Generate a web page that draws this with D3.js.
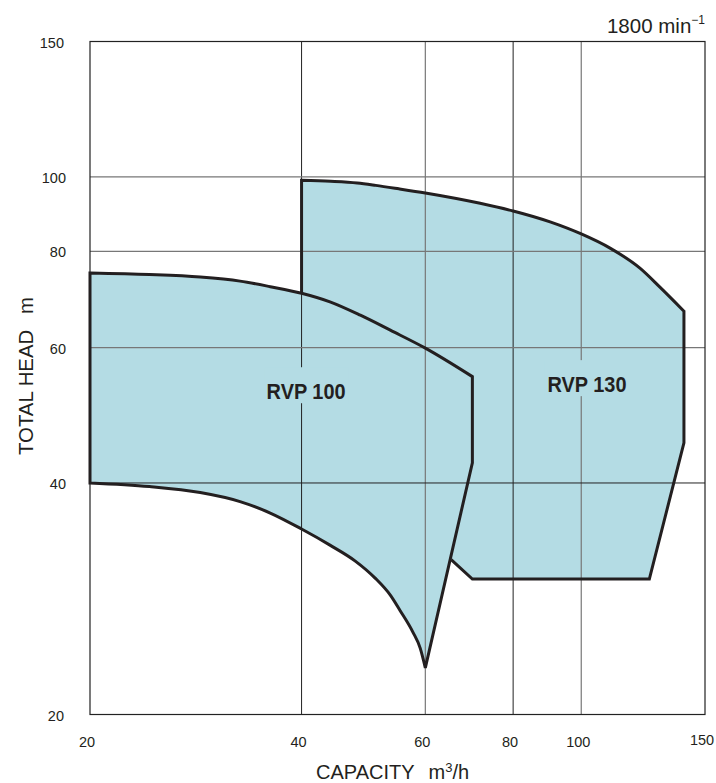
<!DOCTYPE html>
<html>
<head>
<meta charset="utf-8">
<script src="https://cdn.jsdelivr.net/npm/d3@7"></script>
<style>
  html, body { margin: 0; padding: 0; background: #fff; }
  svg { display: block; }
  text { font-family: "Liberation Sans Narrow", "Arial Narrow", "Liberation Sans", Arial, sans-serif; fill: #231f20; }
</style>
</head>
<body>
<svg id="chart" width="716" height="783"></svg>
<script>
// ---- data ----
const xTicks = [20, 40, 60, 80, 100, 150];
const yTicks = [20, 40, 60, 80, 100, 150];
const xGridDark = [40, 80];
const xGridLight = [60, 100];
const yGridDark = [40];
const yGridLight = [60, 80, 100];

// RVP 100 performance range [capacity m3/h, head m]
const rvp100Top = [[20, 75.0], [24.3, 74.66], [28.7, 74.1], [32.7, 73.2], [36.1, 72.0], [40, 70.6],
  [43.9, 68.8], [48.5, 66.1], [53.5, 63.2], [60, 59.9], [70, 55.0]];
const rvp100Right = [[70, 55.0], [70, 42.5], [60, 23.0]];
const rvp100Bottom = [[60, 23.0], [59, 24.4], [57.6, 25.6], [55.2, 27.33], [53.5, 28.59], [50.9, 30.09],
  [47.7, 31.66], [43.9, 33.21], [40, 34.85], [36.1, 36.56], [32.7, 37.83], [28.7, 38.87], [24.3, 39.57], [20, 40.0]];

// RVP 130 performance range
const rvp130Left = [[40, 70.6], [40, 99.0]];
const rvp130Top = [[40, 99.0], [44, 98.7], [48, 98.2], [51, 97.5], [55, 96.5], [60, 95.3], [71.8, 92.4],
  [80, 90.3], [90.3, 87.4], [100, 84.3], [109.9, 80.8], [121.2, 76.1], [129.4, 71.9], [140, 66.9]];
const rvp130Right = [[140, 66.9], [140, 45.1], [125, 30.0], [70, 30.0], [65.3, 31.8]];
const rvp130Hidden = [[65.3, 31.8], [60, 36.0], [40, 45.0], [40, 70.6]];

const labels = [
  { text: "RVP 100", q: 40.6, h: 51.4 },
  { text: "RVP 130", q: 101.9, h: 52.5 }
];

// ---- drawing ----
const svg = d3.select("#chart");
const x = d3.scaleLog().domain([20, 150]).range([90, 705]);
const y = d3.scaleLog().domain([20, 150]).range([714.5, 41.5]);

const FILL = "#b4dce4";
const INK = "#231f20";

const lin = d3.line().x(d => x(d[0])).y(d => y(d[1]));
const smooth = d3.line().x(d => x(d[0])).y(d => y(d[1])).curve(d3.curveMonotoneX);
const cont = s => "L" + s.slice(1);

const p100 = smooth(rvp100Top) + cont(lin(rvp100Right)) + cont(smooth(rvp100Bottom)) + "Z";
const p130fill = smooth(rvp130Top) + cont(lin(rvp130Right)) + cont(lin(rvp130Hidden)) + "Z";
const p130stroke = lin(rvp130Left) + cont(smooth(rvp130Top)) + cont(lin(rvp130Right));

svg.append("path").attr("d", p130fill).attr("fill", FILL);
svg.append("path").attr("d", p100).attr("fill", FILL);

// grid
const g = svg.append("g");
xGridDark.forEach(v => g.append("line").attr("x1", x(v)).attr("x2", x(v)).attr("y1", y(150)).attr("y2", y(20))
  .attr("stroke", "#222").attr("stroke-width", 1));
xGridLight.forEach(v => g.append("line").attr("x1", x(v)).attr("x2", x(v)).attr("y1", y(150)).attr("y2", y(20))
  .attr("stroke", "#777").attr("stroke-width", 1.2));
yGridDark.forEach(v => g.append("line").attr("y1", y(v)).attr("y2", y(v)).attr("x1", x(20)).attr("x2", x(150))
  .attr("stroke", "#222").attr("stroke-width", 1));
yGridLight.forEach(v => g.append("line").attr("y1", y(v)).attr("y2", y(v)).attr("x1", x(20)).attr("x2", x(150))
  .attr("stroke", "#777").attr("stroke-width", 1.2));
g.append("rect").attr("x", x(20)).attr("y", y(150)).attr("width", x(150) - x(20)).attr("height", y(20) - y(150))
  .attr("fill", "none").attr("stroke", "#222").attr("stroke-width", 1.2);

// outlines
svg.append("path").attr("d", p130stroke).attr("fill", "none").attr("stroke", INK).attr("stroke-width", 3).attr("stroke-linejoin", "miter");
svg.append("path").attr("d", p100).attr("fill", "none").attr("stroke", INK).attr("stroke-width", 3).attr("stroke-linejoin", "miter");

// region labels
labels.forEach(l => {
  const cx = x(l.q), cy = y(l.h);
  svg.append("rect").attr("x", cx - 42).attr("y", cy - 32).attr("width", 84).attr("height", 36).attr("fill", FILL);
  svg.append("text").attr("x", cx).attr("y", cy).attr("text-anchor", "middle")
    .attr("font-size", 22).attr("font-weight", "bold")
    .attr("textLength", 79).attr("lengthAdjust", "spacingAndGlyphs")
    .text(l.text);
});

// tick labels
xTicks.forEach(v => {
  svg.append("text").attr("x", x(v) - 3).attr("y", v === 150 ? 745 : 747)
    .attr("text-anchor", "middle").attr("font-size", 14.5).text(v);
});
yTicks.forEach(v => {
  svg.append("text").attr("x", v === 20 || v === 150 ? 64 : 66).attr("y", y(v) + 6)
    .attr("text-anchor", "end").attr("font-size", 14.5).text(v);
});

// axis titles
svg.append("text").attr("x", 316).attr("y", 779).attr("font-size", 20)
  .call(t => {
    t.append("tspan").text("CAPACITY\u2002\u2009m");
    t.append("tspan").attr("font-size", 13).attr("dy", -7).text("3");
    t.append("tspan").attr("dy", 7).text("/h");
  });

svg.append("text").attr("transform", "translate(33,376) rotate(-90)").attr("text-anchor", "middle")
  .attr("font-size", 20).attr("textLength", 158).attr("lengthAdjust", "spacingAndGlyphs")
  .text("TOTAL HEAD\u2002 m");

svg.append("text").attr("x", 705).attr("y", 33).attr("text-anchor", "end").attr("font-size", 20.5)
  .call(t => {
    t.append("tspan").text("1800 min");
    t.append("tspan").attr("font-size", 12).attr("dy", -9).text("\u22121");
  });
</script>
</body>
</html>
